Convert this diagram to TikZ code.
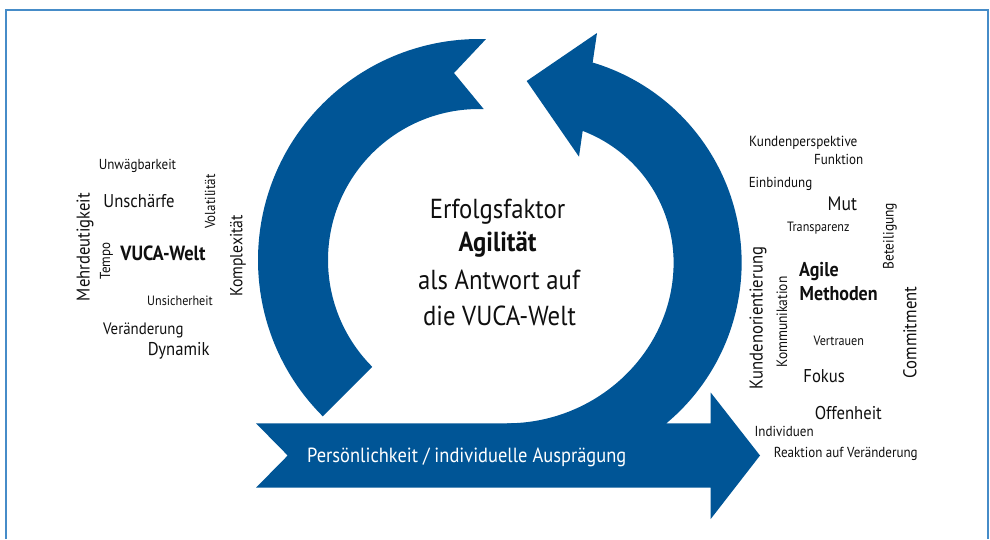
\documentclass[tikz,border=0pt]{standalone}
\usepackage{fontspec}
\setmainfont{PT Sans}[FakeStretch=0.9]
\usetikzlibrary{calc}
\definecolor{agileblue}{RGB}{0,85,150}
\definecolor{framecol}{RGB}{70,140,200}
\definecolor{wordcol}{RGB}{15,15,15}
\tikzset{
  band/.style={fill=agileblue, draw=none},
  word/.style={text=wordcol, inner sep=0pt, font=\fontsize{#1}{#1}\selectfont},
  vword/.style={word=#1, rotate=90},
  bword/.style={text=wordcol, inner sep=0pt, font=\fontsize{#1}{#1}\selectfont\bfseries},
  centre/.style={text=wordcol, inner sep=0pt, font=\fontsize{27.5}{27.5}\selectfont},
}
\begin{document}
\begin{tikzpicture}[x=1pt,y=-1pt]
\useasboundingbox (0,0) rectangle (990,539);
% open frame
\draw[framecol, line width=1.3pt] (6,539) -- (6,10) -- (988,10) -- (988,539);

% left arc with tail notch at the top
\fill[band] (479,260) ++(135:221) arc[start angle=135, end angle=271.8, radius=221]
  -- (454,73) -- ($(479,260)+(271.8:151)$)
  arc[start angle=271.8, end angle=135, radius=151] -- cycle;

% right arc rising from the shaft, head pointing left at the top
\fill[band] ($(532.6,262.7)+(-69.2:141)$) -- (579,156.7) -- (526.7,81) -- (597,33)
  -- ($(532.6,262.7)+(-73.3:209)$)
  arc[start angle=-73.3, end angle=50.1, radius=209]
  -- (666.7,430) -- (507,430) -- (507,423.3)
  .. controls (598,423.3) and (673.6,350.7) .. (673.6,262.7)
  arc[start angle=0, end angle=-69.2, radius=141] -- cycle;

% horizontal arrow
\fill[band] (256,423.3) -- (710.7,423.3) -- (710.7,392.5) -- (760,455.5)
  -- (710.7,519) -- (710.7,487.7) -- (256,487.7) -- (287.7,455.5) -- cycle;
\node[text=white, inner sep=0pt, font=\fontsize{20.5}{20.5}\selectfont] (shaft) at (466.7,457)
  {Persönlichkeit / individuelle Ausprägung};

% centre text
\node[centre] (c1) at (497.5,212) {Erfolgsfaktor};
\node[centre, font=\fontsize{27.5}{27.5}\selectfont\bfseries] (c2) at (497.5,244) {Agilität};
\node[centre] (c3) at (499,280) {als Antwort auf};
\node[centre] (c4) at (499.5,316) {die VUCA-Welt};

% VUCA words
\node[word=14.5] (w1) at (137.5,166) {Unwägbarkeit};
\node[word=18.5] (w2) at (139,201) {Unschärfe};
\node[vword=18.5] (w3) at (85,247) {Mehrdeutigkeit};
\node[vword=14.5] (w4) at (210,201.5) {Volatilität};
\node[vword=14.5] (w5) at (106.5,261) {Tempo};
\node[bword=20.5] (w6) at (163,253.5) {VUCA-Welt};
\node[vword=17.5] (w7) at (238,256) {Komplexität};
\node[word=13.5] (w8) at (180,300.7) {Unsicherheit};
\node[word=16.5] (w9) at (143.3,330) {Veränderung};
\node[word=18.5] (w10) at (178.7,351) {Dynamik};

% agile words
\node[word=14.7] (a1) at (803.3,142.7) {Kundenperspektive};
\node[word=14.5] (a2) at (838.7,159) {Funktion};
\node[word=14.5] (a3) at (780.5,184) {Einbindung};
\node[word=19.5] (a4) at (842.3,203.3) {Mut};
\node[word=13.5] (a5) at (818.3,228.3) {Transparenz};
\node[vword=15] (a6) at (890,236) {Beteiligung};
\node[bword=20, anchor=west] (a7) at (799,271.7) {Agile};
\node[bword=20, anchor=west] (a8) at (799.5,294) {Methoden};
\node[vword=18.5] (a9) at (758,318) {Kundenorientierung};
\node[vword=15] (a10) at (782,322) {Kommunikation};
\node[vword=18.5] (a11) at (910,332.5) {Commitment};
\node[word=13.5] (a12) at (838.8,341) {Vertrauen};
\node[word=18.5] (a13) at (824.2,375.7) {Fokus};
\node[word=18.5] (a14) at (848.3,413.3) {Offenheit};
\node[word=14.5] (a15) at (784.2,431) {Individuen};
\node[word=14.5] (a16) at (845.8,454.3) {Reaktion auf Veränderung};
\end{tikzpicture}
\end{document}
